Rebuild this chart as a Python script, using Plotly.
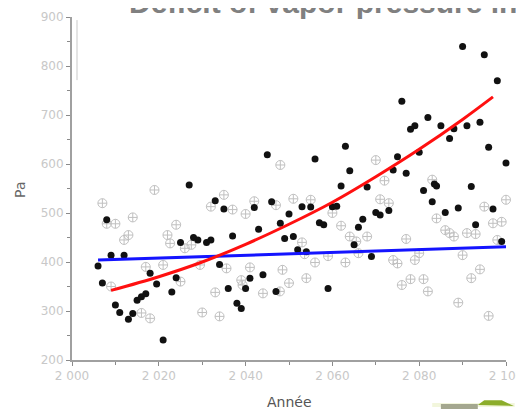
import plotly.graph_objects as go

# ---- data ----
black_year = [2006, 2007, 2008, 2009, 2010, 2011, 2012, 2013, 2014, 2015, 2016, 2017, 2018, 2019.5,
              2021, 2023, 2024, 2025, 2027, 2028, 2029, 2031, 2032, 2033, 2034, 2035, 2036, 2037,
              2038, 2039, 2040, 2041, 2042, 2043, 2044, 2045, 2046, 2047, 2048, 2049, 2050, 2051,
              2052, 2053, 2054, 2055, 2056, 2057, 2058, 2059, 2060, 2061, 2062, 2063, 2064, 2065,
              2066, 2067, 2068, 2069, 2070, 2071, 2073, 2074, 2075, 2076, 2077, 2078, 2079, 2080,
              2081, 2082, 2083, 2083.5, 2084, 2085, 2086, 2087, 2088, 2089, 2090, 2091, 2092, 2093,
              2094, 2095, 2096, 2097, 2098, 2099, 2100]
black_pa = [392, 357, 486, 414, 312, 297, 414, 283, 295, 322, 329, 335, 377, 355,
            241, 339, 368, 440, 557, 450, 445, 440, 445, 525, 395, 508, 346, 453,
            316, 305, 346, 367, 511, 467, 374, 619, 523, 340, 479, 448, 498, 452,
            425, 513, 421, 512, 610, 480, 476, 346, 513, 514, 555, 636, 586, 435,
            471, 487, 553, 411, 501, 496, 505, 588, 615, 728, 581, 671, 678, 624,
            546, 695, 523, 559, 555, 678, 501, 652, 672, 510, 840, 678, 554, 476,
            685, 823, 634, 508, 770, 442, 602]

grey_year = [2007, 2008, 2009, 2010, 2012, 2013, 2014, 2016, 2017, 2018, 2019, 2021, 2022, 2022.6,
             2024, 2025, 2026, 2027.5, 2029.5, 2030, 2032, 2033, 2034, 2035, 2035.6, 2037, 2039,
             2039.3, 2040, 2041, 2042, 2044, 2047, 2048, 2048.5, 2047.9, 2050, 2051, 2053,
             2053.6, 2054, 2055, 2056, 2059, 2060, 2062, 2063, 2064, 2065.5, 2066, 2068, 2070,
             2071, 2072, 2073, 2074, 2075, 2076, 2077, 2078, 2079, 2080, 2081, 2082, 2083, 2084,
             2086, 2087, 2088, 2089, 2090, 2091, 2092, 2093, 2094, 2095, 2096, 2097, 2098, 2099, 2100]
grey_pa = [520, 478, 350, 478, 445, 455, 491, 296, 390, 285, 547, 394, 455, 438,
           476, 360, 428, 435, 394, 297, 513, 338, 289, 537, 387, 507, 363,
           353, 498, 389, 524, 336, 516, 598, 384, 340, 357, 529, 440,
           416, 367, 527, 399, 412, 500, 474, 399, 452, 442, 418, 452, 608,
           528, 566, 520, 404, 397, 353, 447, 365, 404, 418, 365, 340, 568, 489,
           465, 459, 452, 317, 414, 459, 367, 457, 385, 513, 290, 479, 445, 482, 527]

red_year = [2009, 2020, 2030, 2040, 2050, 2060, 2070, 2080, 2090, 2097]
red_pa = [342, 370, 400, 436, 477, 522, 574, 630, 691, 737]

blue_year = [2006, 2100]
blue_pa = [404, 431]

x_ticks = [2000, 2020, 2040, 2060, 2080, 2100]
x_ticktext = ["2 000", "2 020", "2 040", "2 060", "2 080", "2 100"]
y_ticks = [200, 300, 400, 500, 600, 700, 800, 900]

title_text = "Deficit of vapor pressure in the"

fig = go.Figure()
fig.add_trace(go.Scatter(x=grey_year, y=grey_pa, mode="markers", cliponaxis=False,
                         marker=dict(symbol="circle-cross-open", size=9, color="#c0c0c0",
                                     line=dict(width=1, color="#c0c0c0"))))
fig.add_trace(go.Scatter(x=black_year, y=black_pa, mode="markers", cliponaxis=False,
                         marker=dict(symbol="circle", size=7, color="#111111")))
fig.add_trace(go.Scatter(x=blue_year, y=blue_pa, mode="lines", cliponaxis=False,
                         line=dict(color="#1414ff", width=3)))
fig.add_trace(go.Scatter(x=red_year, y=red_pa, mode="lines", cliponaxis=False,
                         line=dict(color="#ff1010", width=3, shape="spline")))

axis_common = dict(showline=True, linecolor="#a0a0a0", linewidth=2, ticks="outside",
                   ticklen=4, tickwidth=1, tickcolor="#8a8a8a", showgrid=False, zeroline=False,
                   automargin=False,
                   tickfont=dict(family="DejaVu Sans", size=12, color="#c8c8c8"))

fig.update_layout(
    width=524, height=409,
    margin=dict(l=64, r=26, t=9, b=57),
    paper_bgcolor="white", plot_bgcolor="white",
    showlegend=False,
    xaxis=dict(range=[2000, 2100], tickvals=x_ticks, ticktext=x_ticktext,
               minor=dict(dtick=10, ticks="outside", ticklen=3, tickcolor="#8a8a8a"),
               **axis_common),
    yaxis=dict(range=[200, 900], tickvals=y_ticks,
               minor=dict(dtick=50, ticks="outside", ticklen=3, tickcolor="#8a8a8a"),
               **axis_common),
    annotations=[
        dict(text=title_text, xref="paper", yref="paper", x=0.127, y=1, yshift=-4,
             xanchor="left", yanchor="bottom", showarrow=False,
             font=dict(family="Liberation Sans", size=30, color="#808080", weight="bold")),
        dict(text="Pa", xref="paper", yref="paper", x=-0.12, y=0.4956, textangle=-90,
             xanchor="center", yanchor="middle", showarrow=False,
             font=dict(family="DejaVu Sans", size=14, color="#666666")),
        dict(text="Année", xref="paper", yref="paper", x=0.502, y=-0.1216,
             xanchor="center", yanchor="middle", showarrow=False,
             font=dict(family="DejaVu Sans", size=14, color="#555555")),
    ],
    shapes=[
        dict(type="line", xref="paper", yref="paper", x0=0.0115, x1=0.0115, y0=0.991, y1=0.816,
             line=dict(color="#e4e4e4", width=2)),
        dict(type="rect", xref="paper", yref="paper", x0=0.83, x1=1.02, y0=-0.137, y1=-0.125,
             fillcolor="#f2f6dc", line=dict(width=0)),
        dict(type="rect", xref="paper", yref="paper", x0=0.850, x1=0.935, y0=-0.143, y1=-0.128,
             fillcolor="#a4a78f", line=dict(width=0)),
        dict(type="path", xref="paper", yref="paper",
             path="M 0.935 -0.131 L 0.950 -0.117 L 0.990 -0.117 L 1.018 -0.134 Z",
             fillcolor="#8cad2a", line=dict(width=0)),
    ],
)

fig.write_html("out.html")
